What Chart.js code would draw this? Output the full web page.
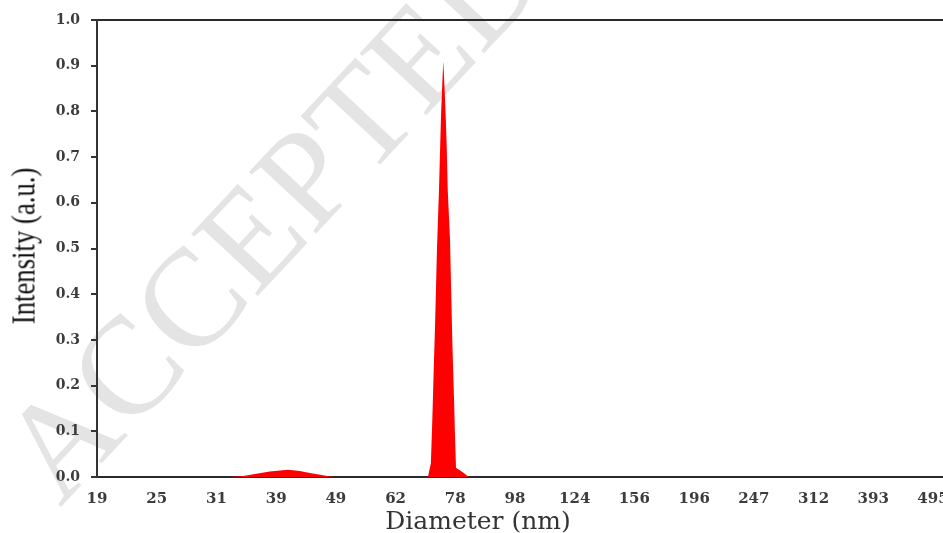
<!DOCTYPE html>
<html>
<head>
<meta charset="utf-8">
<script src="https://cdn.jsdelivr.net/npm/chart.js@4/dist/chart.umd.min.js"></script>
<style>
  html, body { margin: 0; padding: 0; background: #fff; }
  #wrap { position: relative; width: 943px; height: 533px; overflow: hidden; background: #fff; }
  #chart { position: absolute; left: 0; top: 0; }
  #watermark {
    position: absolute; left: 60px; top: 392px;
    font: 139px 'Liberation Serif', serif; line-height: 1;
    color: #e4e4e4; white-space: nowrap;
    transform-origin: 0 116px; transform: rotate(-47deg);
  }
  #ytitle {
    position: absolute; left: 24px; top: 246px;
    font: 33px 'Liberation Serif', serif; line-height: 1; color: #111;
    white-space: nowrap;
    transform: translate(-50%, -50%) rotate(-90deg) scaleX(0.81);
  }
  #xtitle {
    position: absolute; left: 478px; top: 508px;
    font: 25px 'DejaVu Serif', serif; line-height: 1; color: #333;
    white-space: nowrap; transform: translateX(-50%);
  }
</style>
</head>
<body>
<div id="wrap">
  <div id="watermark">ACCEPTED MANUSCRIPT</div>
  <canvas id="chart" width="990" height="533"></canvas>
  <div id="ytitle">Intensity (a.u.)</div>
  <div id="xtitle">Diameter (nm)</div>
</div>
<script>
// ---- Data ----
const tickLabels = ['19', '25', '31', '39', '49', '62', '78', '98', '124', '156', '196', '247', '312', '393', '495'];
const tickDiameters = [19.48, 24.54, 30.92, 38.96, 49.09, 61.85, 77.92, 98.18, 123.7, 155.8, 196.4, 247.4, 311.7, 392.7, 494.8];
const yTicks = [0, 0.1, 0.2, 0.3, 0.4, 0.5, 0.6, 0.7, 0.8, 0.9, 1.0];

const diameters = [19.48, 32.6, 34.3, 36.1, 38.0, 40.0, 40.8, 42.7, 44.4, 46.2, 48.0, 48.9,
  70.1, 70.9, 71.3, 71.6, 72.05, 72.6, 73.17, 73.74, 74.1, 74.39, 74.7, 75.09, 75.4, 75.67,
  76.35, 77.03, 77.3, 77.63, 77.8, 78.14, 79.88, 81.44, 82.17, 617];
const intensity = [0, 0, 0.002, 0.007, 0.012, 0.015, 0.016, 0.013, 0.009, 0.005, 0.001, 0,
  0, 0.03, 0.125, 0.21, 0.33, 0.50, 0.63, 0.79, 0.86, 0.91, 0.86, 0.79, 0.72, 0.63,
  0.52, 0.30, 0.23, 0.15, 0.10, 0.02, 0.012, 0.004, 0, 0];

// ---- Chart ----
const axisColor = '#2a2a2a';
const tickColor = '#3c3c3c';

const ctx = document.getElementById('chart').getContext('2d');
new Chart(ctx, {
  type: 'line',
  data: {
    datasets: [{
      data: diameters.map((d, i) => ({ x: d, y: intensity[i] })),
      backgroundColor: '#ff0000',
      borderWidth: 0,
      pointRadius: 0,
      fill: 'origin',
      tension: 0
    }]
  },
  options: {
    responsive: false,
    animation: false,
    devicePixelRatio: 1,
    layout: { padding: { top: 20, right: 0, bottom: 0, left: 0 } },
    plugins: { legend: { display: false }, tooltip: { enabled: false } },
    scales: {
      x: {
        type: 'logarithmic',
        position: 'bottom',
        min: 19.48,
        max: 617,
        afterBuildTicks: s => { s.ticks = tickDiameters.map(v => ({ value: v })); },
        afterFit: s => { s.height = 56; },
        grid: { display: false, drawTicks: false },
        border: { display: true, color: axisColor, width: 2 },
        ticks: {
          autoSkip: false, maxRotation: 0, padding: 13,
          color: tickColor,
          font: { family: 'DejaVu Serif', size: 15, weight: 'bold' },
          callback: (v, i) => tickLabels[i]
        }
      },
      xTop: {
        type: 'linear',
        position: 'top',
        afterFit: s => { s.height = 0; },
        grid: { display: false, drawTicks: false },
        border: { display: true, color: axisColor, width: 2 },
        ticks: { display: false }
      },
      y: {
        min: 0,
        max: 1,
        afterBuildTicks: s => { s.ticks = yTicks.map(v => ({ value: v })); },
        afterFit: s => { s.width = 97; },
        grid: { drawOnChartArea: false, drawTicks: true, tickLength: 6, lineWidth: 2, color: '#333' },
        border: { display: true, color: '#333', width: 2 },
        ticks: {
          padding: 11,
          color: tickColor,
          font: { family: 'DejaVu Serif', size: 14, weight: 'bold' },
          callback: v => v.toFixed(1)
        }
      }
    }
  }
});
</script>
</body>
</html>
